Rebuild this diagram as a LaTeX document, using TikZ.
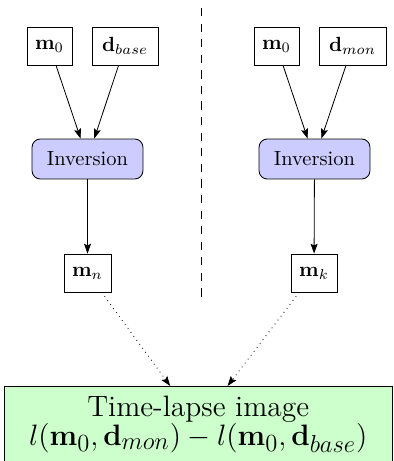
\documentclass[tikz,border=0pt]{standalone}
\usetikzlibrary{arrows.meta}
\DeclareMathSizes{14.4}{14.4}{12}{10}
\begin{document}
\begin{tikzpicture}[x=0.4878pt,y=-0.4878pt,
  box/.style={draw, minimum height=18.5pt, inner sep=0pt},
  inv/.style={draw, fill=blue!20, rounded corners=4pt, minimum width=54.1pt, minimum height=19.5pt, inner sep=0pt},
  arr/.style={-{Stealth[length=4.8pt,width=3.4pt,inset=0.8pt]}},
  dotarr/.style={arr, dotted},
  sepline/.style={dash pattern=on 4pt off 3.6pt},
  result/.style={draw, fill=green!20, minimum width=189pt, minimum height=37pt, inner xsep=0pt, inner ysep=0pt, align=center, font=\Large}]
\useasboundingbox (0,0) rectangle (394,461);
% left column
\node[box, minimum width=21.9pt] (m0l) at (49.5,46) {$\mathbf{m}_0$};
\node[box, minimum width=32.2pt] (dbase) at (125,46) {$\mathbf{d}_{base}$};
\node[inv] (invl) at (87.5,159) {Inversion};
\node[box, minimum width=22.9pt] (mn) at (87.5,273) {$\mathbf{m}_n$};
% right column
\node[box, minimum width=21.9pt] (m0r) at (276.5,46) {$\mathbf{m}_0$};
\node[box, minimum width=32.7pt] (dmon) at (352.5,46) {$\mathbf{d}_{mon}$};
\node[inv] (invr) at (314.5,159) {Inversion};
\node[box, minimum width=22.4pt] (mk) at (314,273) {$\mathbf{m}_k$};
% result
\node[result, anchor=north] (tl) at (198.25,386)
  {Time-lapse image\\[-3.9pt] $l(\mathbf{m}_0,\mathbf{d}_{mon}) - l(\mathbf{m}_0,\mathbf{d}_{base})$};
% separator
\coordinate (st) at (201,8);
\coordinate (sb) at (201,303);
\draw[sepline] (st) -- (sb);
% connectors
\draw[arr] (m0l) -- (invl);
\draw[arr] (dbase) -- (invl);
\draw[arr] (invl) -- (mn);
\draw[arr] (m0r) -- (invr);
\draw[arr] (dmon) -- (invr);
\draw[arr] (invr) -- (mk);
\draw[dotarr] (mn) -- (tl);
\draw[dotarr] (mk) -- (tl);
\end{tikzpicture}
\end{document}
